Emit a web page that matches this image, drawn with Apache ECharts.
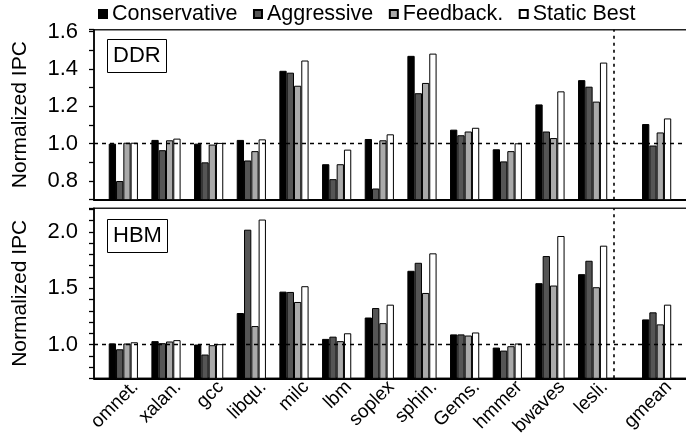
<!DOCTYPE html>
<html>
<head>
<meta charset="utf-8">
<script src="https://cdn.jsdelivr.net/npm/echarts@6/dist/echarts.min.js"></script>
<style>html,body{margin:0;padding:0;background:#fff;}#c{width:686px;height:435px;}</style>
</head>
<body>
<div id="c"></div>
<script>
// ---- data ----
const categories = ['omnet.','xalan.','gcc','libqu.','milc','lbm','soplex','sphin.','Gems.','hmmer','bwaves','lesli.','gmean'];
const seriesNames = ['Conservative','Aggressive','Feedback.','Static Best'];

const ddrConservative = [1.00, 1.02, 1.00, 1.02, 1.39, 0.89, 1.025, 1.47, 1.075, 0.97, 1.21, 1.34, 1.105];
const ddrAggressive   = [0.80, 0.965, 0.90, 0.91, 1.38, 0.81, 0.76, 1.27, 1.045, 0.905, 1.065, 1.305, 0.99];
const ddrFeedback     = [1.005, 1.018, 0.995, 0.96, 1.31, 0.89, 1.018, 1.325, 1.065, 0.96, 1.03, 1.225, 1.06];
const ddrStaticBest   = [1.005, 1.027, 1.004, 1.023, 1.445, 0.968, 1.05, 1.482, 1.085, 1.002, 1.28, 1.434, 1.135];

const hbmConservative = [1.01, 1.03, 1.00, 1.28, 1.47, 1.05, 1.24, 1.655, 1.09, 0.973, 1.545, 1.625, 1.223];
const hbmAggressive   = [0.958, 1.012, 0.911, 2.02, 1.467, 1.07, 1.324, 1.726, 1.09, 0.946, 1.786, 1.744, 1.286];
const hbmFeedback     = [1.009, 1.027, 0.994, 1.164, 1.378, 1.03, 1.19, 1.458, 1.08, 0.985, 1.524, 1.509, 1.179];
const hbmStaticBest   = [1.02, 1.039, 1.003, 2.11, 1.518, 1.10, 1.354, 1.81, 1.107, 1.009, 1.964, 1.878, 1.354];

const ddrTickLabels = ['0.8','1.0','1.2','1.4','1.6'];
const hbmTickLabels = ['1.0','1.5','2.0'];
const panelNames = ['DDR','HBM'];
const yTitle = 'Normalized IPC';

// ---- layout helpers (fine slots on a category axis) ----
const NSLOTS = 112;
function slotOf(i) { return i < categories.length - 1 ? 5 + 8 * i : 105; }
const LABEL_SHIFT = 1;   // label sits one fine slot to the right of its bar group
const SEP_SLOT = 99;
const slotKeys = [];
for (let s = 0; s < NSLOTS; s++) slotKeys.push('s' + s);
const slotLabel = {};
categories.forEach((c, i) => { slotLabel['s' + (slotOf(i) + LABEL_SHIFT)] = c; });
function toSlots(vals) {
  const arr = new Array(NSLOTS).fill('-');
  vals.forEach((v, i) => { arr[slotOf(i)] = v; });
  return arr;
}

const FONT = 'Liberation Sans, Arial, Helvetica, sans-serif';
const colors = ['#000000', '#555555', '#aaaaaa', '#ffffff'];
const panels = [
  { vals: [ddrConservative, ddrAggressive, ddrFeedback, ddrStaticBest], min: 0.7, max: 1.61, labels: ddrTickLabels, top: 29.7 },
  { vals: [hbmConservative, hbmAggressive, hbmFeedback, hbmStaticBest], min: 0.7, max: 2.21, labels: hbmTickLabels, top: 208.3 }
];
const GRID_H = 170;

const grids = [], xAxes = [], yAxes = [], series = [], titles = [];
panels.forEach((p, k) => {
  grids.push({ left: 94, top: p.top, width: NSLOTS * 5.333, height: GRID_H, show: true,
    borderColor: '#222', borderWidth: 1.4, backgroundColor: 'transparent',
    containLabel: false, outerBoundsMode: 'none' });
  xAxes.push({
    type: 'category', gridIndex: k, data: slotKeys, boundaryGap: true,
    axisLine: { show: true, lineStyle: { color: '#000', width: 2 } },
    axisTick: { show: false },
    axisLabel: {
      show: k === 1, interval: 0, rotate: 45, margin: -1, verticalAlign: 'top',
      fontFamily: FONT, fontSize: 19, color: '#000',
      formatter: (v) => slotLabel[v] || ''
    },
    splitLine: { show: false }
  });
  yAxes.push({
    type: 'value', gridIndex: k, min: p.min, max: p.max, interval: 0.1,
    name: yTitle, nameLocation: 'middle', nameGap: 63,
    nameTextStyle: { fontFamily: FONT, fontSize: 21, color: '#000' },
    axisLine: { show: true, lineStyle: { color: '#000', width: 1.6 } },
    axisTick: { show: true, inside: false, length: 5, lineStyle: { color: '#000', width: 1.3 } },
    axisLabel: {
      fontFamily: FONT, fontSize: 22, color: '#000', margin: 16,
      formatter: (v) => {
        const r = Math.round(v * 10);
        if (Math.abs(v * 10 - r) > 1e-6) return '';
        const s = (r / 10).toFixed(1);
        return p.labels.indexOf(s) >= 0 ? s : '';
      }
    },
    splitLine: { show: false }
  });
  p.vals.forEach((vals, j) => {
    const s = {
      name: seriesNames[j], type: 'bar', xAxisIndex: k, yAxisIndex: k,
      data: toSlots(vals), barWidth: 7.3, barGap: '0%', clip: true,
      itemStyle: { color: colors[j], borderColor: '#000', borderWidth: 1 },
      animation: false
    };
    if (j === 0) {
      s.markLine = {
        silent: true, symbol: 'none', label: { show: false }, animation: false,
        data: [
          { yAxis: 1.0, lineStyle: { color: '#000', type: [4, 4], width: 1.4 } },
          { xAxis: SEP_SLOT, lineStyle: { color: '#000', type: [3, 4], width: 1.6 } }
        ]
      };
    }
    series.push(s);
  });
  titles.push({
    text: panelNames[k], left: 107, top: k === 0 ? 39 : 219,
    borderColor: '#000', borderWidth: 1, padding: [4, 6],
    textStyle: { fontFamily: FONT, fontSize: 22, fontWeight: 'normal', color: '#000', lineHeight: 26 }
  });
});

const chart = echarts.init(document.getElementById('c'), null, { renderer: 'canvas' });
chart.setOption({
  animation: false,
  backgroundColor: '#fff',
  title: titles,
  legend: {
    data: seriesNames, left: 93, top: -2, itemWidth: 8, itemHeight: 8, itemGap: 15.5,
    icon: 'rect',
    textStyle: { fontFamily: FONT, fontSize: 21.5, color: '#000' }
  },
  grid: grids, xAxis: xAxes, yAxis: yAxes, series: series
});
</script>
</body>
</html>
